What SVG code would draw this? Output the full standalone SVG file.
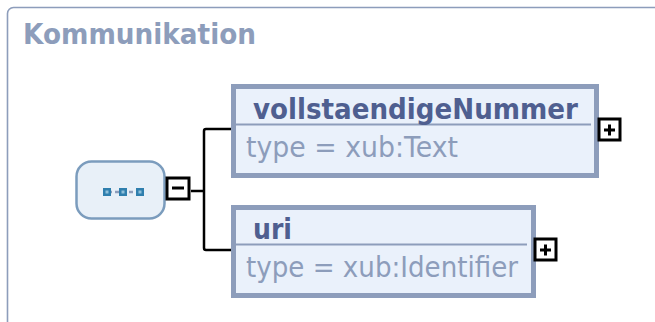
<svg xmlns="http://www.w3.org/2000/svg" width="655" height="322" viewBox="0 0 655 322">
<style>
.el{fill:#eaf1fb;stroke:#8d9dbb;stroke-width:5}
.div{stroke:#8d9dbb;stroke-width:2;fill:none}
.name{font:bold 29px Tahoma,"DejaVu Sans",sans-serif;fill:#4f5f90}
.type{font:29px Tahoma,"DejaVu Sans",sans-serif;fill:#8d9dbb}
.btn{fill:#fff;stroke:#000;stroke-width:3}
.sym{stroke:#000;stroke-width:3;fill:none}
.conn{stroke:#000;stroke-width:2.500;fill:none;stroke-linejoin:round}
</style>
<rect width="655" height="322" fill="#fff"/>
<g id="frame">
<rect x="7.500" y="7.500" width="670" height="340" rx="6" fill="#fff" stroke="#8d9dbb" stroke-width="1.600"/>
<text x="23" y="43.500" font-family="Tahoma,'DejaVu Sans',sans-serif" font-weight="bold" font-size="29" fill="#8d9dbb" textLength="233" lengthAdjust="spacingAndGlyphs">Kommunikation</text>
</g>
<g id="connectors">
<path class="conn" d="M191 191H204M231 129H206Q204 129 204 131V248Q204 250 206 250H231"/>
</g>
<g id="sequence">
<rect x="76.500" y="161.500" width="88" height="57" rx="15" fill="#e8f0f8" stroke="#7b9cbd" stroke-width="2.500"/>
<path d="M108 192H140" stroke="#8d9dbb" stroke-width="2.500" stroke-dasharray="4 3"/>
<g fill="#2f7fae">
<rect x="103" y="188" width="8" height="8"/><rect x="119" y="188" width="8" height="8"/><rect x="136" y="188" width="8" height="8"/>
</g>
<g fill="#8fc0da">
<rect x="105.500" y="190.500" width="3" height="3"/><rect x="121.500" y="190.500" width="3" height="3"/><rect x="138.500" y="190.500" width="3" height="3"/>
</g>
</g>
<g id="minus">
<rect class="btn" x="167" y="178" width="22" height="21"/>
<path class="sym" d="M172 188H184"/>
</g>
<g id="vollstaendigeNummer">
<rect class="el" x="233.500" y="86.500" width="363" height="89"/>
<path class="div" d="M236 124.500H591"/>
<text class="name" x="253" y="119" textLength="325" lengthAdjust="spacingAndGlyphs">vollstaendigeNummer</text>
<text class="type" x="246" y="157" textLength="212" lengthAdjust="spacingAndGlyphs">type  = xub:Text</text>
<rect class="btn" x="599" y="119" width="21" height="21"/>
<path class="sym" d="M604 130H615M609.500 124.500V135.500"/>
</g>
<g id="uri">
<rect class="el" x="233.500" y="207.500" width="300" height="88"/>
<path class="div" d="M236 244.500H527"/>
<text class="name" x="253" y="238.500" textLength="39" lengthAdjust="spacingAndGlyphs">uri</text>
<text class="type" x="246" y="277" textLength="272" lengthAdjust="spacingAndGlyphs">type  = xub:Identifier</text>
<rect class="btn" x="535" y="239" width="21" height="21"/>
<path class="sym" d="M540 250H551M545.500 244.500V255.500"/>
</g>
</svg>
